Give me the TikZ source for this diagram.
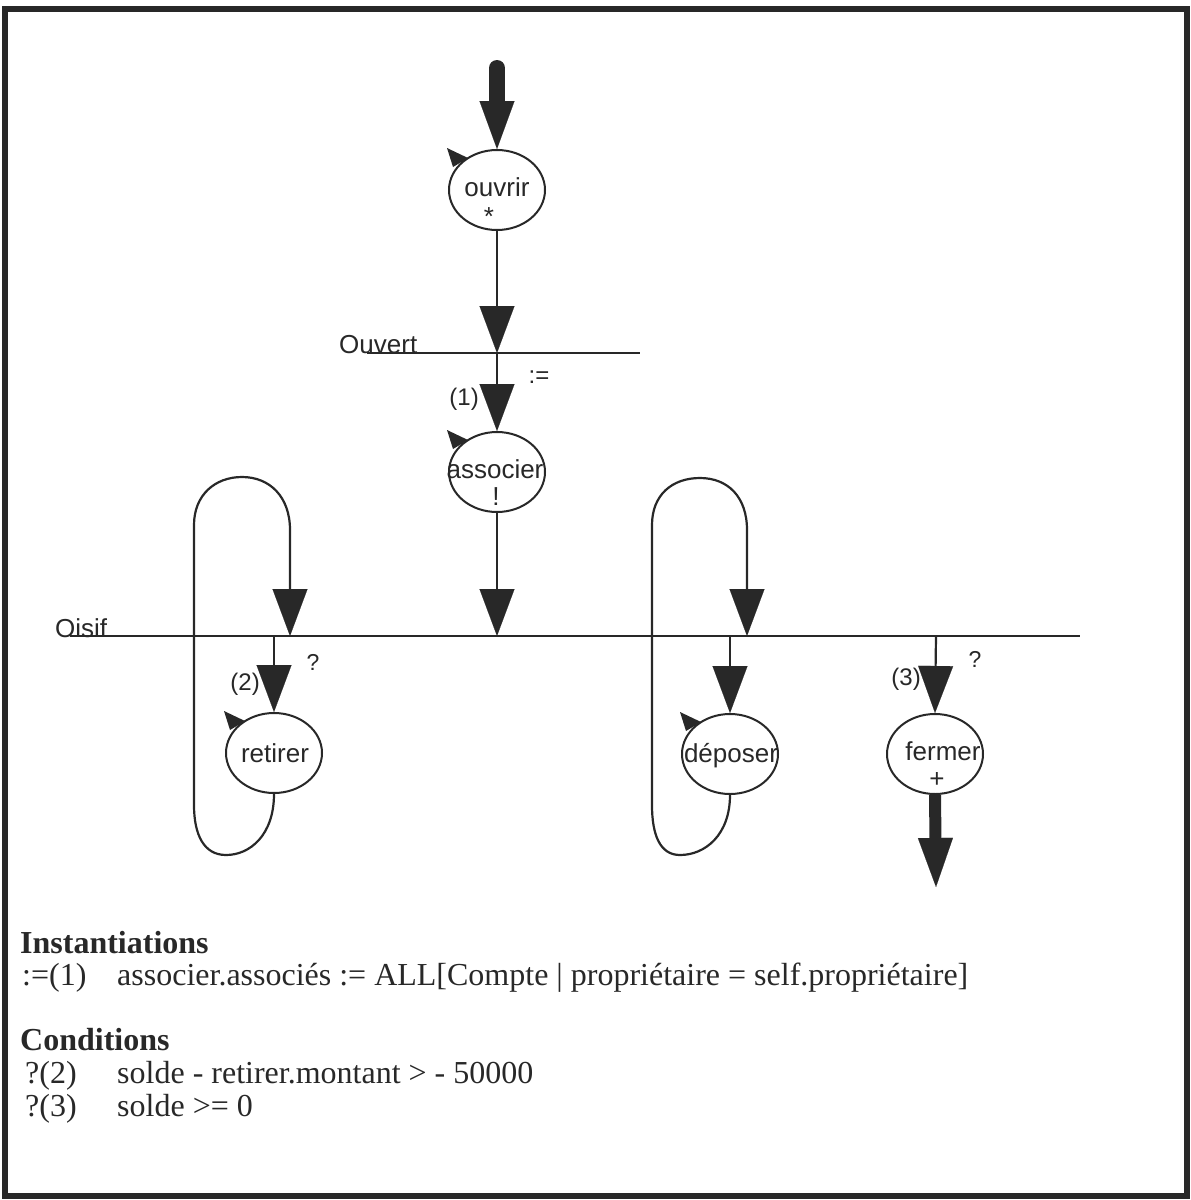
\documentclass[tikz,border=0pt]{standalone}
\usepackage{fontspec}
\setmainfont{Liberation Serif}
\setsansfont{Liberation Sans}
\usetikzlibrary{arrows.meta,shapes.geometric}
\definecolor{ink}{RGB}{40,40,40}
\tikzset{
  ell/.style={draw=ink, line width=2pt, ellipse, fill=white, minimum width=96pt, minimum height=80pt, inner sep=0pt},
  lbl/.style={font=\sffamily\fontsize{26}{30}\selectfont, text=ink, inner sep=0pt, anchor=base},
  small/.style={font=\sffamily\fontsize{24}{28}\selectfont, text=ink, inner sep=0pt},
  tiny/.style={font=\sffamily\fontsize{23}{26}\selectfont, text=ink, inner sep=0pt},
  flow/.style={draw=ink, line width=2.2pt, -{Triangle[width=35pt,length=47pt,line width=0.1pt]}},
  bigflow/.style={draw=ink, line width=16pt, line cap=round, -{Triangle[width=35pt,length=48pt,line width=0.1pt]}},
  exitflow/.style={draw=ink, line width=12pt, -{Triangle[width=35pt,length=49pt,line width=0.1pt]}},
  stateline/.style={draw=ink, line width=2.5pt},
  txt/.style={font=\fontsize{32}{38}\selectfont, text=ink, inner sep=0pt, anchor=base west},
  txtb/.style={font=\bfseries\fontsize{32}{38}\selectfont, text=ink, inner sep=0pt, anchor=base west},
  flagmark/.pic={\fill[ink] (-50,-42) -- (-29,-32) -- (-44,-23) -- cycle;}
}
\begin{document}
\begin{tikzpicture}[x=1pt,y=-1pt]
\useasboundingbox (0,0) rectangle (1191,1200);
\fill[white] (0,0) rectangle (1191,1200);
\draw[ink, line width=6pt] (5,9) rectangle (1187,1196);

% state lines
\coordinate (ov-l) at (367,353);
\coordinate (ov-r) at (640,353);
\coordinate (ov-j) at (497,353);
\draw[stateline] (ov-l) -- (ov-r);
\node[lbl, anchor=base west] (ouvert) at (339,353) {Ouvert};

\coordinate (oi-l) at (70,636);
\coordinate (oi-r) at (1080,636);
\draw[stateline] (oi-l) -- (oi-r);
\node[lbl, anchor=base west] (oisif) at (55,637) {Oisif};
\coordinate (oi-a) at (497,636);
\coordinate (oi-r1) at (290,636);
\coordinate (oi-r2) at (274,636);
\coordinate (oi-d1) at (747,636);
\coordinate (oi-d2) at (730,636);
\coordinate (oi-f) at (936,636);

% nodes
\node[ell] (ouv) at (497,190) {};
\node[ell] (ass) at (497,472) {};
\node[ell] (ret) at (274,753) {};
\node[ell] (dep) at (730,754) {};
\node[ell] (fer) at (935,754) {};
\pic at (ouv.center) {flagmark};
\pic at (ass.center) {flagmark};
\pic at (ret.center) {flagmark};
\pic at (dep.center) {flagmark};

\node[lbl] (ouv-t) at (497,196) {ouvrir};
\node[lbl] (ouv-s) at (489,225) {*};
\node[lbl] (ass-t) at (495,478) {associer};
\node[lbl] (ass-s) at (496,505) {!};
\node[lbl] (ret-t) at (275,762) {retirer};
\node[lbl] (dep-t) at (731,762) {déposer};
\node[lbl] (fer-t) at (943,760) {fermer};
\node[lbl] (fer-s) at (937,787) {+};

% connectors
\coordinate (start) at (497,68);
\coordinate (finish) at (936,887);
\draw[bigflow] (start) -- (ouv.north);
\draw[flow] (ouv.south) -- (ov-j);
\draw[flow] (ov-j) -- (ass.north);
\draw[flow] (ass.south) -- (oi-a);
\draw[flow] (oi-r2) -- (ret.north);
\draw[flow] (oi-d2) -- (dep.north);
\draw[flow] (oi-f) -- (fer.north);
\draw[exitflow] (fer.south) -- (finish);

\draw[flow] (ret.south) .. controls (274,835) and (250,855) .. (226,855)
  .. controls (204,855) and (194,835) .. (194,805) -- (194,525)
  .. controls (194,495) and (215,477) .. (242,477)
  .. controls (270,477) and (290,497) .. (290,530) -- (oi-r1);
\draw[flow] (dep.south) .. controls (730,835) and (705,855) .. (680,855)
  .. controls (660,855) and (652,835) .. (652,805) -- (652,525)
  .. controls (652,495) and (672,478) .. (700,478)
  .. controls (728,478) and (747,497) .. (747,530) -- (oi-d1);

% labels
\node[small, anchor=base east] (l1) at (479,405) {(1)};
\node[small] (lassign) at (539,377) {:=};
\node[small, anchor=base east] (l2) at (260,690) {(2)};
\node[tiny] (q2) at (313,662) {?};
\node[small, anchor=base east] (l3) at (921,685) {(3)};
\node[tiny] (q3) at (975,659) {?};

% text block
\node[txtb] (inst) at (20,953) {Instantiations};
\node[txt] (i1a) at (22,985) {:=(1)};
\node[txt] (i1b) at (117,985) {associer.associés := ALL[Compte | propriétaire = self.propriétaire]};
\node[txtb] (cond) at (20,1050) {Conditions};
\node[txt] (c2a) at (25,1083) {?(2)};
\node[txt] (c2b) at (117,1083) {solde - retirer.montant > - 50000};
\node[txt] (c3a) at (25,1116) {?(3)};
\node[txt] (c3b) at (117,1116) {solde >= 0};
\end{tikzpicture}
\end{document}
